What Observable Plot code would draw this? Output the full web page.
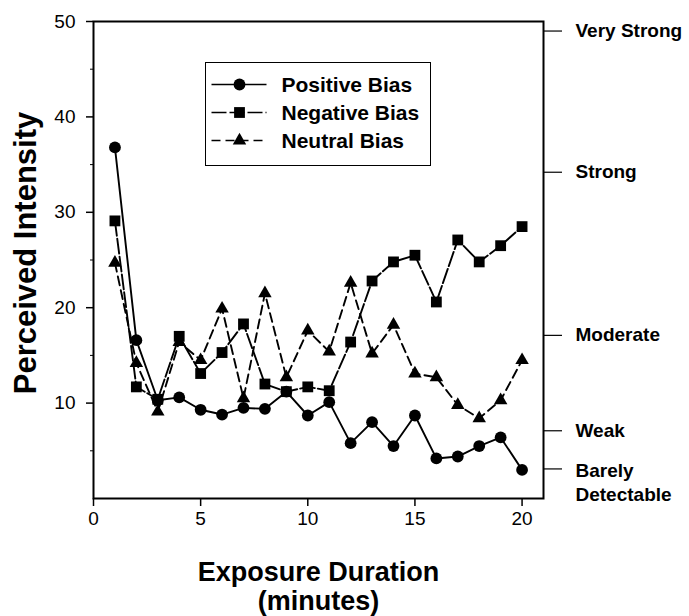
<!DOCTYPE html>
<html><head><meta charset="utf-8">
<script src="https://cdn.jsdelivr.net/npm/d3@7"></script>
<script src="https://cdn.jsdelivr.net/npm/@observablehq/plot@0.6"></script>
<style>
body{margin:0;background:#fff;}
#wrap{position:relative;width:689px;height:616px;font-family:"Liberation Sans",Arial,sans-serif;}
#legend{position:absolute;left:205px;top:62px;width:224px;height:102px;border:1.5px solid #000;background:#fff;}
#legend svg{display:block;}
</style></head><body><div id="wrap"></div>
<script>
// ---- data ----
const minutes = [1,2,3,4,5,6,7,8,9,10,11,12,13,14,15,16,17,18,19,20];
const positiveBias = [36.8,16.6,10.3,10.6,9.3,8.8,9.5,9.4,11.2,8.7,10.1,5.8,8.0,5.5,8.7,4.2,4.4,5.5,6.4,3.0];
const negativeBias = [29.1,11.7,10.4,17.0,13.1,15.3,18.3,12.0,11.2,11.7,11.3,16.4,22.8,24.8,25.5,20.6,27.1,24.8,26.5,28.5];
const neutralBias  = [24.7,14.2,9.1,16.4,14.5,19.9,10.5,21.5,12.7,17.6,15.4,22.6,15.2,18.2,13.1,12.7,9.8,8.4,10.3,14.5];
const seriesNames = ["Positive Bias","Negative Bias","Neutral Bias"];
const xTicks = [0,5,10,15,20];
const yTicks = [10,20,30,40,50];
const yMinorTicks = [5,15,25,35,45];
const rightTickValues = [49,34.2,17.1,7.1,3.1];
const rightTickLabels = ["Very Strong","Strong","Moderate","Weak","Barely\nDetectable"];
const xTitle = "Exposure Duration\n(minutes)";
const yTitle = "Perceived Intensity";

// ---- styles ----
const seriesStyle = {
  "Positive Bias": {symbol: "circle", r: 5.9, dash: null},
  "Negative Bias": {symbol: "square", r: 6.1, dash: "15,3"},
  "Neutral Bias":  {symbol: "triangle", r: 5.0, dash: "9,5"}
};
const seriesValues = [positiveBias, negativeBias, neutralBias];
const rows = seriesNames.flatMap((s, k) => minutes.map((m, i) => ({minute: m, value: seriesValues[k][i], series: s})));
const rightRows = rightTickValues.map((v, i) => ({value: v, label: rightTickLabels[i]}));

const seriesMarks = seriesNames.flatMap(s => {
  const d = rows.filter(r => r.series === s);
  const st = seriesStyle[s];
  return [
    Plot.line(d, {x: "minute", y: "value", stroke: "#000", strokeWidth: 1.9, strokeDasharray: st.dash}),
    Plot.dot(d, {x: "minute", y: "value", symbol: () => st.symbol, r: st.r, fill: "#000", stroke: "none"})
  ];
});

const chart = Plot.plot({
  width: 689, height: 616,
  marginLeft: 93, marginRight: 146, marginTop: 21, marginBottom: 118,
  style: {fontFamily: "'Liberation Sans', Arial, sans-serif", fontSize: "19px", color: "#000", background: "#fff"},
  x: {domain: [0, 21]},
  y: {domain: [0, 50]},
  symbol: {type: "identity"},
  marks: [
    Plot.frame({stroke: "#000", strokeWidth: 2}),
    Plot.axisY({ticks: yTicks, anchor: "left", tickSize: 7, tickPadding: 11, fontSize: 19, label: null, strokeWidth: 1.5}),
    Plot.axisY({ticks: yMinorTicks, anchor: "left", tickSize: 3, tickFormat: () => "", label: null}),
    Plot.axisX({ticks: xTicks, anchor: "bottom", tickSize: 8, tickPadding: 5, fontSize: 19, label: null, strokeWidth: 1.5}),
    Plot.axisY({ticks: rightTickValues, anchor: "right", tickSize: 18, tickFormat: () => "", label: null, strokeWidth: 1.2}),
    Plot.text(rightRows.filter(r => !r.label.includes("\n")), {y: "value", text: "label", frameAnchor: "right", dx: 32, textAnchor: "start", fontSize: 19, fontWeight: "bold"}),
    Plot.text(rightRows.filter(r => r.label.includes("\n")), {y: "value", text: "label", frameAnchor: "right", dx: 32, dy: -9, textAnchor: "start", lineAnchor: "top", lineHeight: 1.25, fontSize: 19, fontWeight: "bold"}),
    ...seriesMarks,
    Plot.text([xTitle], {frameAnchor: "bottom", lineAnchor: "top", dy: 61, fontSize: 27, fontWeight: "bold", lineHeight: 1.1}),
    Plot.text([yTitle], {frameAnchor: "left", textAnchor: "middle", rotate: -90, dx: -67, dy: -7, fontSize: 31, fontWeight: "bold"})
  ]
});
document.getElementById("wrap").appendChild(chart);

// ---- legend (overlay inside the plot frame) ----
const legend = d3.select("#wrap").append("div").attr("id", "legend");
const lsvg = legend.append("svg").attr("width", 224).attr("height", 102);
const symType = {circle: d3.symbolCircle, square: d3.symbolSquare, triangle: d3.symbolTriangle};
seriesNames.forEach((s, i) => {
  const st = seriesStyle[s];
  const cy = 21.5 + i * 28;
  lsvg.append("line").attr("x1", 5.5).attr("x2", 60.5).attr("y1", cy).attr("y2", cy)
    .attr("stroke", "#000").attr("stroke-width", 1.6).attr("stroke-dasharray", st.dash);
  lsvg.append("path").attr("transform", `translate(33.5,${cy})`)
    .attr("d", d3.symbol(symType[st.symbol], Math.PI * st.r * st.r)()).attr("fill", "#000");
  lsvg.append("text").attr("x", 75.5).attr("y", cy + 7).text(s)
    .attr("font-family", "'Liberation Sans', Arial, sans-serif").attr("font-size", 21).attr("font-weight", "bold");
});
</script></body></html>
